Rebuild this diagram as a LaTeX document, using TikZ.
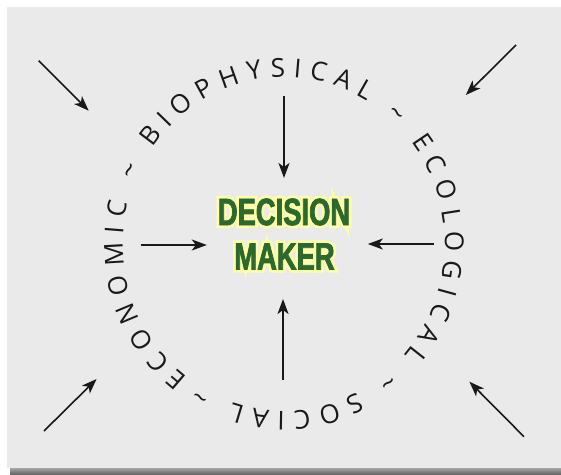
\documentclass[tikz,border=0pt]{standalone}
\usepackage{fontspec}
\usetikzlibrary{decorations.text,arrows.meta}
\newfontfamily\ringfont{Open Sans}
\newfontfamily\dmfont[FakeStretch=0.72,FakeBold=2]{Liberation Sans}
\newfontfamily\dmglowfont[FakeStretch=0.72,FakeBold=16]{Liberation Sans}
\definecolor{panel}{HTML}{EAEAEA}
\definecolor{dmgreen}{HTML}{2C692D}
\definecolor{dmglow}{HTML}{FFFFAA}

\begin{document}
\begin{tikzpicture}[x=1pt, y=1pt,
  flow/.style={-{Stealth[length=15pt, width=11pt, inset=4pt]}, line width=1.6pt, black!90},
  dm/.style={text=dmgreen, inner sep=0pt, font=\dmfont\bfseries\fontsize{38}{38}\selectfont},
  glow/.style={text=dmglow, inner sep=0pt, font=\dmglowfont\bfseries\fontsize{38}{38}\selectfont}]
\useasboundingbox (0,0) rectangle (561,474);
\shade[top color=black!35, bottom color=black!60] (10,0) rectangle (561,6);
\fill[panel] (7,6) rectangle (561,467);

\node[glow] (G1) at (284,262) {DECISION};
\node[glow] (G2) at (284.5,217.5) {MAKER};
\node[dm] (D1) at (G1) {DECISION};
\node[dm] (D2) at (G2) {MAKER};

\path[decorate, decoration={text along path, text align={fit to path},
  text={|\ringfont\fontsize{26}{26}\selectfont\color{black!90}|ECONOMIC {\textasciitilde} BIOPHYSICAL {\textasciitilde} ECOLOGICAL {\textasciitilde} SOCIAL {\textasciitilde}}}]
  (284,230) ++(233:161 and 167) arc[start angle=233, end angle=-122, x radius=161, y radius=167];

\coordinate (TS) at (284,378);
\coordinate (TE) at (284,296);
\coordinate (BS) at (283,94);
\coordinate (BE) at (283,175);
\coordinate (LS) at (140.6,229);
\coordinate (LE) at (206.8,229);
\coordinate (RS) at (433.6,230);
\coordinate (RE) at (367.8,230);

\coordinate (AS) at (38.6,413.3);
\coordinate (AE) at (88.7,363.3);
\coordinate (BS2) at (516,429);
\coordinate (BE2) at (465.8,379);
\coordinate (CS) at (44,43);
\coordinate (CE) at (96.6,95);
\coordinate (DS) at (524,37.3);
\coordinate (DE) at (469.4,92.3);

\draw[flow] (TS) -- (TE);
\draw[flow] (BS) -- (BE);
\draw[flow] (LS) -- (LE);
\draw[flow] (RS) -- (RE);

\draw[flow] (AS) -- (AE);
\draw[flow] (BS2) -- (BE2);
\draw[flow] (CS) -- (CE);
\draw[flow] (DS) -- (DE);
\end{tikzpicture}
\end{document}
